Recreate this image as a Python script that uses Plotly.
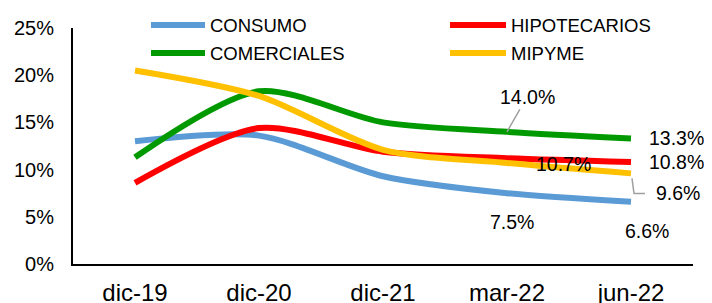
import plotly.graph_objects as go

categories = ["dic-19", "dic-20", "dic-21", "mar-22", "jun-22"]
consumo = [13.0, 13.6, 9.3, 7.5, 6.6]
hipotecarios = [8.6, 14.4, 11.9, 11.2, 10.8]
comerciales = [11.3, 18.3, 15.0, 14.0, 13.3]
mipyme = [20.5, 17.8, 12.1, 10.7, 9.6]

series = [
    ("CONSUMO", consumo, "#5B9BD5"),
    ("HIPOTECARIOS", hipotecarios, "#FF0000"),
    ("COMERCIALES", comerciales, "#009A00"),
    ("MIPYME", mipyme, "#FFC000"),
]

FONT = "Liberation Sans, Arial, sans-serif"

# The page body has an 8px margin, so the figure is sized to fill the window.
OFF = 8
W, H = 712 - OFF, 303 - OFF
L, R, T, B = 65, 19, 20, 39
PW, PH = W - L - R, H - T - B

def px_x(p):  # screen pixel -> paper x
    return (p - OFF - L) / PW

def px_y(p):  # screen pixel -> paper y
    return (H - B - (p - OFF)) / PH

fig = go.Figure()
for name, vals, col in series:
    fig.add_trace(go.Scatter(
        x=categories, y=vals, name=name, mode="lines", showlegend=False,
        line=dict(color=col, width=6, shape="spline", smoothing=0.8),
    ))

def lab(cat_i, vals, xs, ys, arrow=None):
    v = vals[cat_i]
    d = dict(x=categories[cat_i], y=v, text=f"{v:.1f}%", showarrow=False,
             font=dict(family=FONT, size=19.5, color="#000"),
             xshift=xs, yshift=ys)
    if arrow:
        d.update(showarrow=True, arrowhead=0, arrowcolor="#A0A0A0", arrowwidth=1.5,
                 ax=arrow[0], ay=arrow[1], xshift=0, yshift=0, standoff=0)
    return d

annotations = [
    lab(3, comerciales, 0, 0, arrow=(20, -35)),
    lab(4, comerciales, 45, 0),
    lab(4, hipotecarios, 45, 0),
    lab(4, mipyme, 47, -20),
    lab(3, mipyme, 56, -1),
    lab(3, consumo, 5, -29),
    lab(4, consumo, 16, -29),
]

shapes = [
    dict(type="path", xref="x", yref="y", xsizemode="pixel", ysizemode="pixel",
         xanchor=categories[4], yanchor=mipyme[4],
         path="M 1,-5 L 3,-20 L 14,-20",
         line=dict(color="#A0A0A0", width=1.5)),
]

# manual two-column legend (screen pixel positions)
legend_pos = {
    "CONSUMO": (151, 205, 25),
    "COMERCIALES": (151, 205, 53),
    "HIPOTECARIOS": (450, 506, 25),
    "MIPYME": (450, 506, 53),
}
for name, vals, col in series:
    x0, x1, yy = legend_pos[name]
    shapes.append(dict(type="line", xref="paper", yref="paper",
                       x0=px_x(x0), x1=px_x(x1), y0=px_y(yy), y1=px_y(yy),
                       line=dict(color=col, width=6)))
    annotations.append(dict(xref="paper", yref="paper", x=px_x(x1 + 3), y=px_y(yy + 0.5),
                            text=name, showarrow=False, xanchor="left", yanchor="middle",
                            font=dict(family=FONT, size=18.5, color="#000")))

fig.update_layout(
    width=W, height=H,
    margin=dict(l=L, r=R, t=T, b=B),
    paper_bgcolor="white", plot_bgcolor="white",
    font=dict(family=FONT, color="#000"),
    showlegend=False,
    xaxis=dict(type="category", range=[-0.5, 4.5], showgrid=False, automargin=False,
               showline=True, linecolor="#000", linewidth=2,
               ticks="outside", ticklen=6, tickcolor="rgba(0,0,0,0)",
               tickfont=dict(family=FONT, size=24, color="#000")),
    yaxis=dict(range=[0, 25], dtick=5, ticksuffix="%", showgrid=False, automargin=False,
               showline=True, linecolor="#000", linewidth=2,
               ticks="outside", ticklen=13, tickcolor="rgba(0,0,0,0)",
               tickfont=dict(family=FONT, size=20, color="#000")),
    annotations=annotations,
    shapes=shapes,
)

fig.write_html("out.html")
